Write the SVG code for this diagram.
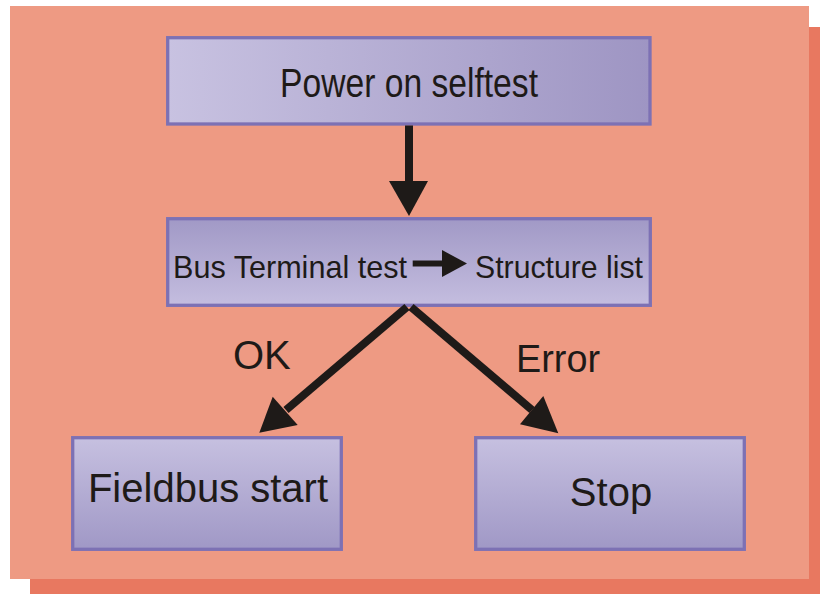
<svg xmlns="http://www.w3.org/2000/svg" width="820" height="594" viewBox="0 0 820 594">
<defs>
<linearGradient id="gH" x1="0" y1="0" x2="1" y2="0"><stop offset="0" stop-color="#c8c2e1"/><stop offset="1" stop-color="#9e95c3"/></linearGradient>
<linearGradient id="gUp" x1="0" y1="0" x2="0" y2="1"><stop offset="0" stop-color="#a199c6"/><stop offset="1" stop-color="#c4bddf"/></linearGradient>
<linearGradient id="gDown" x1="0" y1="0" x2="0" y2="1"><stop offset="0" stop-color="#c6c0e0"/><stop offset="1" stop-color="#a098c6"/></linearGradient>
<style>
.box{stroke:#7d71b4;stroke-width:3.3}
.t{font-family:"Liberation Sans",Arial,sans-serif;fill:#1e1a18}
.ln{stroke:#1e1a18;stroke-width:8;fill:none}
.hd{fill:#1e1a18}
</style>
</defs>
<rect x="30" y="27" width="790" height="567" fill="#e87860"/>
<rect x="10" y="6" width="799" height="573" fill="#ee9a83"/>
<g id="n1">
<rect class="box" x="167.7" y="37.7" width="482.3" height="86.3" fill="url(#gH)"/>
<text class="t" x="280" y="97" font-size="40" textLength="258" lengthAdjust="spacingAndGlyphs">Power on selftest</text>
</g>
<g id="n2">
<rect class="box" x="167.7" y="218.7" width="482.6" height="86.6" fill="url(#gUp)"/>
<text class="t" x="173" y="278" font-size="32" textLength="234" lengthAdjust="spacingAndGlyphs">Bus Terminal test</text>
<line x1="412.7" y1="263.5" x2="443" y2="263.5" stroke="#1e1a18" stroke-width="6"/>
<polygon class="hd" points="442,250 442,277 467,263.5"/>
<text class="t" x="475" y="278" font-size="32" textLength="168" lengthAdjust="spacingAndGlyphs">Structure list</text>
</g>
<g id="n3">
<rect class="box" x="72.7" y="437.7" width="268.6" height="111.6" fill="url(#gDown)"/>
<text class="t" x="208" y="502" font-size="40" text-anchor="middle">Fieldbus start</text>
</g>
<g id="n4">
<rect class="box" x="475.7" y="437.7" width="268.6" height="111.6" fill="url(#gDown)"/>
<text class="t" x="611" y="506" font-size="40" text-anchor="middle">Stop</text>
</g>
<g id="connectors">
<line class="ln" x1="409" y1="125.5" x2="409" y2="183"/>
<polygon class="hd" points="389,181 428,181 409,216"/>
<line class="ln" x1="407" y1="307" x2="286" y2="410"/>
<polygon class="hd" points="272.7,396.7 297.7,425 259.3,432.7"/>
<line class="ln" x1="411" y1="307" x2="532" y2="410"/>
<polygon class="hd" points="543.3,396 520,424.3 558.3,433.3"/>
<text class="t" x="233" y="369" font-size="40">OK</text>
<text class="t" x="516" y="372" font-size="38" textLength="84" lengthAdjust="spacingAndGlyphs">Error</text>
</g>
</svg>
